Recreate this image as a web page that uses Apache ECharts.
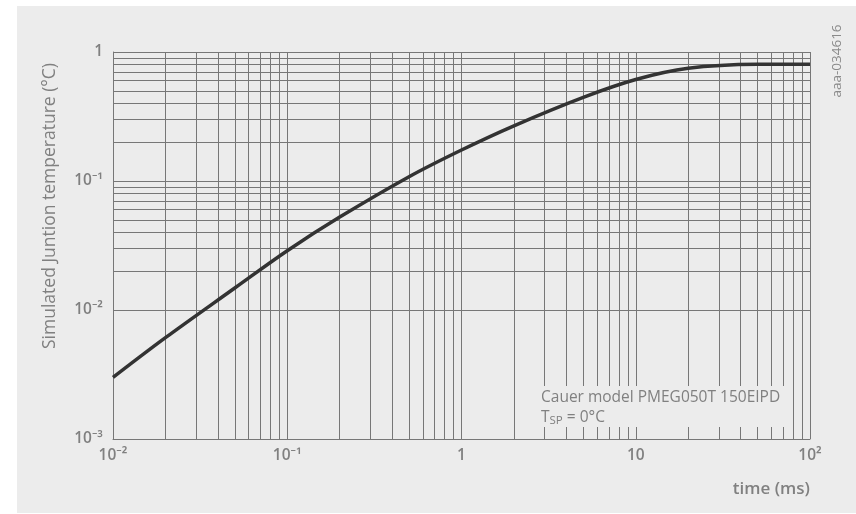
<!DOCTYPE html>
<html>
<head>
<meta charset="utf-8">
<script src="https://cdn.jsdelivr.net/npm/echarts@6/dist/echarts.min.js"></script>
<style>
html,body{margin:0;padding:0;background:#fff;}
#chart{width:856px;height:514px;}
</style>
</head>
<body>
<div id="chart"></div>
<script>
// time (ms)
var timeMs = [0.01, 0.02, 0.05, 0.1, 0.2, 0.5, 1, 2, 5, 10, 20, 50, 100];
// simulated junction temperature (°C)
var tempC = [0.0030, 0.0061, 0.0148, 0.0288, 0.0525, 0.108, 0.174, 0.268, 0.445, 0.612, 0.748, 0.803, 0.805];

var xTickLabels = {'0.01': '10⁻²', '0.1': '10⁻¹', '1': '1', '10': '10', '100': '10²'};
var yTickLabels = {'0.001': '10⁻³', '0.01': '10⁻²', '0.1': '10⁻¹', '1': '1'};
var xDecades = [0.01, 0.1, 1, 10];
var yDecades = [0.001, 0.01, 0.1];
var multipliers = [2, 3, 4, 5, 6, 7, 8, 9];

function fmt(map) {
  return function (v) {
    var k = String(+v.toPrecision(6));
    return map[k] !== undefined ? map[k] : '';
  };
}

var gridLines = [];
xDecades.forEach(function (d) {
  multipliers.forEach(function (m) { gridLines.push({xAxis: +(d * m).toPrecision(6)}); });
});
yDecades.forEach(function (d) {
  multipliers.forEach(function (m) { gridLines.push({yAxis: +(d * m).toPrecision(6)}); });
});

var lineData = timeMs.map(function (t, i) { return [t, tempC[i]]; });

var txtColor = '#808080';
var font = '"Open Sans", "Noto Sans", sans-serif';

var chart = echarts.init(document.getElementById('chart'), null, {renderer: 'canvas'});
chart.setOption({
  animation: false,
  backgroundColor: '#ffffff',
  grid: {left: 113, top: 52, right: 46, bottom: 75, containLabel: false},
  xAxis: {
    type: 'log', logBase: 10, min: 0.01, max: 100, interval: 1,
    axisLine: {show: true, lineStyle: {color: '#777', width: 1}},
    axisTick: {show: false},
    splitLine: {show: true, lineStyle: {color: '#777', width: 1}},
    axisLabel: {formatter: fmt(xTickLabels), color: txtColor, fontSize: 15.5, fontFamily: font, fontWeight: 600, margin: 9}
  },
  yAxis: {
    type: 'log', logBase: 10, min: 0.001, max: 1, interval: 1,
    axisLine: {show: true, lineStyle: {color: '#777', width: 1}},
    axisTick: {show: false},
    splitLine: {show: true, lineStyle: {color: '#777', width: 1}},
    axisLabel: {formatter: fmt(yTickLabels), color: txtColor, fontSize: 15.5, fontFamily: font, fontWeight: 600, margin: 10}
  },
  graphic: [
    {type: 'rect', z: -10, silent: true, shape: {x: 17, y: 6, width: 839, height: 507}, style: {fill: '#ececec'}},
    {type: 'rect', z: 100, silent: true, shape: {x: 533, y: 386, width: 255, height: 41}, style: {fill: '#ececec'}},
    {type: 'text', z: 101, silent: true, x: 541, y: 398,
      style: {text: 'Cauer model PMEG050T 150EIPD', fill: txtColor, fontSize: 15.5, fontFamily: font, align: 'left', verticalAlign: 'middle'}},
    {type: 'text', z: 101, silent: true, x: 541, y: 418,
      style: {text: '{t|T}{s|SP}{t| = 0°C}', fill: txtColor, fontSize: 15.5, fontFamily: font, align: 'left', verticalAlign: 'middle',
        rich: {t: {fontSize: 15.5, fill: txtColor, fontFamily: font}, s: {fontSize: 11.5, fill: txtColor, fontFamily: font, padding: [6, 0, 0, 0]}}}},
    {type: 'text', z: 101, silent: true, x: 50, y: 206, rotation: Math.PI / 2,
      style: {text: 'Simulated Juntion temperature (°C)', fill: txtColor, fontSize: 17.5, fontFamily: font, align: 'center', verticalAlign: 'middle'}},
    {type: 'text', z: 101, silent: true, x: 810, y: 489,
      style: {text: 'time (ms)', fill: txtColor, fontSize: 17, fontWeight: 600, fontFamily: font, align: 'right', verticalAlign: 'middle'}},
    {type: 'text', z: 101, silent: true, x: 837, y: 61, rotation: Math.PI / 2,
      style: {text: 'aaa-034616', fill: '#8a8a8a', fontSize: 13.5, fontFamily: font, align: 'center', verticalAlign: 'middle'}}
  ],
  series: [{
    type: 'line',
    data: lineData,
    smooth: 0.35,
    showSymbol: false,
    symbol: 'none',
    z: 5,
    lineStyle: {color: '#333333', width: 3.5},
    markLine: {
      silent: true,
      symbol: ['none', 'none'],
      label: {show: false},
      lineStyle: {color: '#777', width: 1, type: 'solid'},
      z: 1,
      data: gridLines
    }
  }]
});
</script>
</body>
</html>
